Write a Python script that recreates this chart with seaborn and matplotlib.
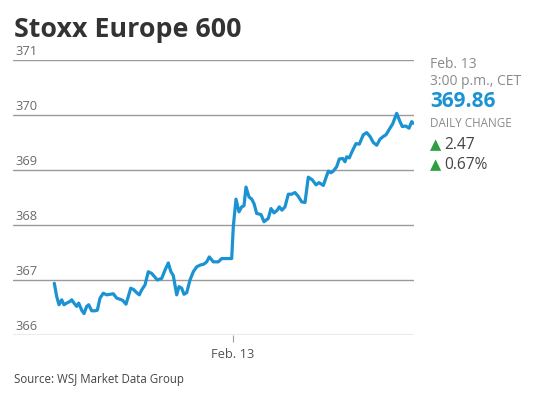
import matplotlib
matplotlib.use("Agg")
import matplotlib.pyplot as plt
import matplotlib.transforms as mtransforms
import seaborn as sns
import pandas as pd

# ---- data ----
t = [54.3, 56.7, 59, 61.7, 64, 66.7, 70, 71.7, 74, 76.7, 78.7, 81.7, 84, 86.7, 88.7,
     91.7, 95, 97.3, 100, 103.3, 106.7, 110, 113.3, 116.7, 120, 122.7, 126, 128.3,
     130.7, 133.3, 136.7, 139.3, 141.7, 145, 148.3, 151.7, 155, 157.3, 161.7, 165,
     168.3, 170.7, 173.3, 176.7, 179, 181.7, 184, 186.7, 190, 193.3, 196.7, 200,
     204, 206.7, 209.3, 213.3, 218.3, 221.7, 225, 231.7, 233.3, 236, 239, 241.7,
     244, 246, 249, 251.7, 254, 256.7, 261, 264, 268.3, 271, 274, 277.3, 279.3,
     282, 285, 288.3, 291.7, 295, 298.3, 301.7, 305, 308.3, 312.3, 316, 319,
     323.3, 328.3, 331, 333.3, 336.7, 339.3, 342.7, 345, 346.7, 349.3, 352.7,
     356, 359.3, 363.3, 366.7, 370, 373.3, 376.7, 380, 383.3, 386, 389.3, 392.7,
     396.7, 400, 402.3, 405.7, 409, 411.7, 413.3]
values = [366.94, 366.70, 366.55, 366.64, 366.55, 366.58, 366.61, 366.64, 366.58,
          366.52, 366.58, 366.45, 366.39, 366.52, 366.55, 366.44, 366.44, 366.45,
          366.67, 366.76, 366.73, 366.74, 366.75, 366.67, 366.65, 366.63, 366.56,
          366.70, 366.85, 366.83, 366.77, 366.73, 366.82, 366.91, 367.15, 367.12,
          367.05, 367.00, 367.03, 367.18, 367.31, 367.16, 367.08, 366.73, 366.88,
          366.85, 366.74, 366.77, 367.00, 367.15, 367.24, 367.27, 367.29, 367.33,
          367.42, 367.33, 367.33, 367.39, 367.39, 367.39, 367.97, 368.47, 368.24,
          368.33, 368.35, 368.69, 368.51, 368.47, 368.39, 368.21, 368.19, 368.06,
          368.12, 368.30, 368.22, 368.27, 368.33, 368.27, 368.33, 368.56, 368.56,
          368.59, 368.52, 368.42, 368.41, 368.87, 368.82, 368.73, 368.77, 368.72,
          368.98, 368.95, 368.98, 369.06, 369.20, 369.21, 369.15, 369.24, 369.22,
          369.36, 369.48, 369.47, 369.64, 369.68, 369.61, 369.50, 369.45, 369.56,
          369.61, 369.64, 369.74, 369.84, 370.03, 369.88, 369.79, 369.80, 369.76,
          369.88, 369.85]
y_ticks = [366, 367, 368, 369, 370, 371]
x_tick_pos = [233]
x_tick_labels = ["Feb. 13"]
title = "Stoxx Europe 600"
last_date = "Feb. 13"
last_time = "3:00 p.m., CET"
last_value = "369.86"
change_pts = "2.47"
change_pct = "0.67%"
source = "Source: WSJ Market Data Group"

sns.set_theme(style="white")
plt.rcParams["font.family"] = ["Open Sans", "DejaVu Sans"]

W, H = 550, 396
fig = plt.figure(figsize=(W / 100, H / 100), dpi=100)
ax = fig.add_axes([13 / W, 61 / H, 401 / W, 275 / H])

df = pd.DataFrame({"t": t, "value": values})
sns.lineplot(data=df, x="t", y="value", ax=ax, color="#1b93d3", linewidth=2.3,
             estimator=None, sort=False, zorder=3)

ax.set_xlim(13, 414)
ax.set_ylim(366, 371)
for s in ax.spines.values():
    s.set_visible(False)
ax.set_xlabel("")
ax.set_ylabel("")

ax.set_yticks(y_ticks)
ax.set_yticklabels([])
ax.tick_params(axis="y", length=0)
for yv in y_ticks:
    ax.axhline(yv, color="#9a9a9a", linewidth=1.0, zorder=1)
trans = mtransforms.blended_transform_factory(ax.transAxes, ax.transData)
for yv in y_ticks:
    ax.text(0.006, yv + 0.03, str(yv), transform=trans, ha="left", va="bottom",
            fontsize=9.3, color="#6a6a6a")
ax.set_xticks(x_tick_pos)
ax.set_xticklabels(x_tick_labels, fontsize=9.3, color="#555555")
ax.tick_params(axis="x", length=5, width=0.8, color="#9a9a9a", pad=4, direction="out",
               bottom=True)

fig.text(14 / W, 1 - 37 / H, title, fontsize=19.3, fontweight="bold", color="#333333",
         ha="left", va="baseline")

x0 = 430 / W
fig.text(x0, 1 - 68 / H, last_date, fontsize=10, color="#8a8a8a", va="baseline")
fig.text(x0, 1 - 85 / H, last_time, fontsize=10, color="#8a8a8a", va="baseline")
fig.text(x0, 1 - 107 / H, last_value, fontsize=15, fontweight="bold", color="#1b93d3",
         va="baseline")
fig.text(x0, 1 - 127 / H, "DAILY CHANGE", fontsize=8.4, color="#8a8a8a", va="baseline")
fig.text(x0, 1 - 149 / H, "▲", fontsize=10.5, color="#2e9e3f", va="baseline",
         family=["DejaVu Sans"])
fig.text(x0 + 14 / W, 1 - 149 / H, change_pts, fontsize=11.2, color="#444444", va="baseline")
fig.text(x0, 1 - 169 / H, "▲", fontsize=10.5, color="#2e9e3f", va="baseline",
         family=["DejaVu Sans"])
fig.text(x0 + 14 / W, 1 - 169 / H, change_pct, fontsize=11.2, color="#444444", va="baseline")

fig.text(14 / W, 1 - 383 / H, source, fontsize=8.3, color="#444444", va="baseline")

fig.savefig("out.png", dpi=100)
